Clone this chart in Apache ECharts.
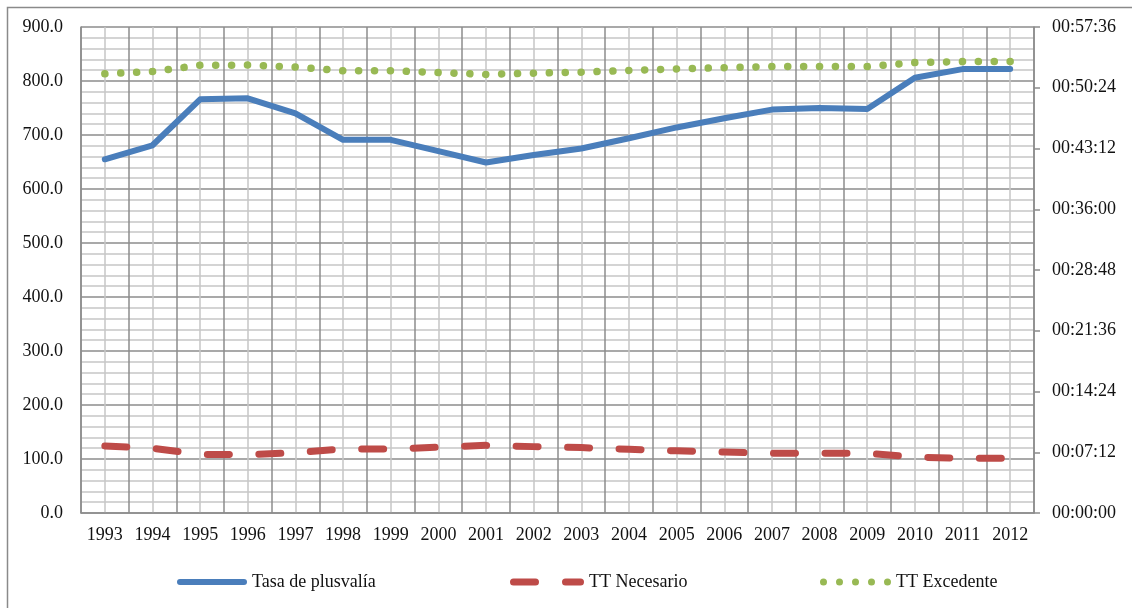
<!DOCTYPE html>
<html>
<head>
<meta charset="utf-8">
<title>Tasa de plusvalía y tiempo de trabajo</title>
<script src="https://cdn.jsdelivr.net/npm/echarts@6/dist/echarts.min.js"></script>
<style>
  html, body { margin: 0; padding: 0; background: #ffffff; }
  #chart { width: 1132px; height: 608px; }
</style>
</head>
<body>
<div id="chart"></div>
<script>
// Years on the category axis
const years = ['1993','1994','1995','1996','1997','1998','1999','2000','2001','2002',
               '2003','2004','2005','2006','2007','2008','2009','2010','2011','2012'];

// Tasa de plusvalía (%), left axis
const tasaPlusvalia = [655, 681, 766, 768, 740, 691, 691, 670, 649, 663,
                       675, 694, 714, 731, 747, 750, 748, 806, 822, 822];

// Necessary labour time per hour, in seconds (right axis)
const ttNecesario = [477, 461, 416, 415, 429, 455, 455, 468, 481, 472,
                     465, 453, 442, 433, 425, 424, 425, 397, 390, 390];

// Surplus labour time per hour, in seconds (right axis)
const ttExcedente = [3123, 3139, 3184, 3185, 3171, 3145, 3145, 3132, 3119, 3128,
                     3135, 3147, 3158, 3167, 3175, 3176, 3175, 3203, 3210, 3210];

// Axis scales
const leftMax = 900, leftStep = 100;
const rightMax = 3456, rightStep = 432;   // 00:57:36 in steps of 00:07:12

const seriesNames = ['Tasa de plusvalía', 'TT Necesario', 'TT Excedente'];
const colors = ['#4a7ebb', '#be4b48', '#98b954'];

const FONT = '"Liberation Serif", "DejaVu Serif", serif';
const MAJOR = '#8c8c8c';
const MINOR = '#c6c6c6';

function pad(n) { return (n < 10 ? '0' : '') + n; }
function hms(sec) {
  const h = Math.floor(sec / 3600);
  const m = Math.floor((sec % 3600) / 60);
  const s = Math.round(sec % 60);
  return pad(h) + ':' + pad(m) + ':' + pad(s);
}

// Legend keys drawn as filled shapes: a solid bar, two dashes, five dots
function roundBar(x0, x1, h) {
  const r = h / 2;
  return 'M' + (x0 + r) + ',0 L' + (x1 - r) + ',0 A' + r + ',' + r + ' 0 0 1 ' + (x1 - r) + ',' + h +
         ' L' + (x0 + r) + ',' + h + ' A' + r + ',' + r + ' 0 0 1 ' + (x0 + r) + ',0 Z';
}
function dot(cx, d) {
  const r = d / 2;
  return 'M' + (cx - r) + ',' + r + ' A' + r + ',' + r + ' 0 1 1 ' + (cx + r) + ',' + r +
         ' A' + r + ',' + r + ' 0 1 1 ' + (cx - r) + ',' + r + ' Z';
}
const iconSolid = 'path://' + roundBar(0, 70, 6);
const iconDashed = 'path://' + roundBar(0, 29, 7) + ' ' + roundBar(52, 74, 7);
const iconDotted = 'path://' + [0, 1, 2, 3, 4].map(i => dot(3.5 + i * 16, 7)).join(' ');

const chart = echarts.init(document.getElementById('chart'), null, { renderer: 'canvas' });

const legendText = { fontFamily: FONT, fontSize: 18, color: '#111' };
function legendAt(name, icon, left, width, height) {
  return {
    data: [{ name: name, icon: icon }],
    left: left,
    top: 573,
    itemWidth: width,
    itemHeight: height,
    itemGap: 0,
    selectedMode: false,
    textStyle: legendText,
    padding: 0
  };
}

chart.setOption({
  animation: false,
  backgroundColor: '#ffffff',
  graphic: [{
    type: 'rect',
    left: 5, top: 5,
    shape: { width: 1130, height: 620 },
    style: { fill: 'none', stroke: '#8a8a8a', lineWidth: 1.5 },
    silent: true,
    z: -1
  }],
  grid: { left: 81, right: 98, top: 27, bottom: 95, containLabel: false },
  legend: [
    legendAt(seriesNames[0], iconSolid, 177, 70, 6),
    legendAt(seriesNames[1], iconDashed, 510, 74, 7),
    legendAt(seriesNames[2], iconDotted, 820, 71, 7)
  ],
  xAxis: [{
    type: 'category',
    data: years,
    boundaryGap: true,
    axisLine: { show: true, lineStyle: { color: MAJOR, width: 1.5 } },
    axisTick: { show: false },
    splitLine: { show: false },
    axisLabel: { fontFamily: FONT, fontSize: 18, color: '#111', margin: 13, interval: 0 },
    z: 3
  }, {
    // Value axis used only to draw the vertical gridlines
    type: 'value',
    min: 0, max: years.length, interval: 1,
    position: 'bottom',
    show: true,
    axisLine: { show: false },
    axisTick: { show: false },
    axisLabel: { show: false },
    splitLine: { show: true, lineStyle: { color: MAJOR, width: 1.5 } },
    minorTick: { show: false, splitNumber: 2 },
    minorSplitLine: { show: true, lineStyle: { color: MINOR, width: 1.5 } }
  }],
  yAxis: [{
    type: 'value',
    min: 0, max: leftMax, interval: leftStep,
    axisLine: { show: true, lineStyle: { color: MAJOR, width: 1.5 } },
    axisTick: { show: false },
    axisLabel: {
      fontFamily: FONT, fontSize: 18, color: '#111', margin: 18,
      formatter: v => v.toFixed(1)
    },
    splitLine: { show: true, lineStyle: { color: MAJOR, width: 1.5 } },
    minorTick: { show: false, splitNumber: 5 },
    minorSplitLine: { show: true, lineStyle: { color: MINOR, width: 1.5 } }
  }, {
    type: 'value',
    position: 'right',
    min: 0, max: rightMax, interval: rightStep,
    axisLine: { show: true, lineStyle: { color: MAJOR, width: 1.5 } },
    axisTick: { show: true, inside: false, length: 6, lineStyle: { color: MAJOR, width: 1.5 } },
    axisLabel: {
      fontFamily: FONT, fontSize: 18, color: '#111', margin: 18,
      formatter: v => hms(v)
    },
    splitLine: { show: false }
  }],
  series: [{
    name: seriesNames[0],
    type: 'line',
    xAxisIndex: 0, yAxisIndex: 0,
    data: tasaPlusvalia,
    symbol: 'none',
    color: colors[0],
    lineStyle: { color: colors[0], width: 6, cap: 'round', join: 'round' },
    z: 5
  }, {
    name: seriesNames[1],
    type: 'line',
    xAxisIndex: 0, yAxisIndex: 1,
    data: ttNecesario,
    symbol: 'none',
    color: colors[1],
    lineStyle: { color: colors[1], width: 7, type: [22, 29.5], cap: 'round', join: 'round' },
    z: 5
  }, {
    name: seriesNames[2],
    type: 'line',
    xAxisIndex: 0, yAxisIndex: 1,
    data: ttExcedente,
    symbol: 'none',
    color: colors[2],
    lineStyle: { color: colors[2], width: 7.5, type: [0.1, 15.8], cap: 'round', join: 'round' },
    z: 5
  }]
});
</script>
</body>
</html>
